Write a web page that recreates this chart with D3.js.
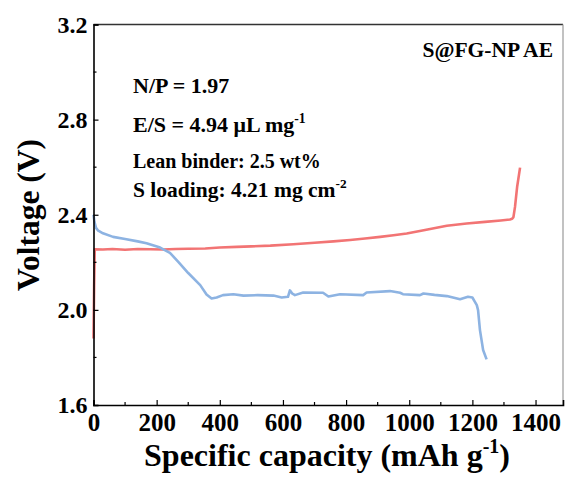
<!DOCTYPE html>
<html>
<head>
<meta charset="utf-8">
<script src="https://cdn.jsdelivr.net/npm/d3@7"></script>
<style>
  html, body { margin: 0; padding: 0; background: #fff; }
  svg { display: block; }
  text { font-family: "Liberation Serif", "Times New Roman", serif; font-weight: bold; fill: #000; }
</style>
</head>
<body>
<svg id="chart" width="567" height="480"></svg>
<script>
// Charge curve (red): capacity in mAh/g, voltage in V
const chargeCap = [0, 2, 4, 30, 60, 100, 140, 180, 220, 260, 300, 354, 400, 454, 500, 560, 633, 700, 760, 813, 860, 908, 950, 992, 1050, 1119, 1182, 1240, 1290, 1319, 1326, 1330, 1335, 1342, 1351];
const chargeV   = [1.88, 2.10, 2.255, 2.254, 2.256, 2.253, 2.256, 2.255, 2.254, 2.256, 2.257, 2.258, 2.262, 2.265, 2.267, 2.270, 2.276, 2.282, 2.288, 2.294, 2.300, 2.307, 2.314, 2.321, 2.336, 2.354, 2.363, 2.370, 2.376, 2.380, 2.383, 2.390, 2.433, 2.52, 2.598];

// Discharge curve (blue)
const dischargeCap = [0, 3, 8, 15, 30, 62, 100, 140, 168, 211, 242, 270, 300, 338, 358, 374, 390, 410, 443, 475, 520, 570, 596, 616, 622, 630, 638, 664, 727, 744, 781, 854, 865, 939, 971, 980, 1034, 1045, 1080, 1119, 1161, 1186, 1200, 1208, 1214, 1218, 1224, 1234, 1245];
const dischargeV   = [2.40, 2.37, 2.345, 2.333, 2.322, 2.307, 2.298, 2.288, 2.280, 2.262, 2.240, 2.200, 2.155, 2.104, 2.065, 2.048, 2.052, 2.062, 2.066, 2.060, 2.062, 2.060, 2.052, 2.055, 2.082, 2.068, 2.062, 2.073, 2.072, 2.056, 2.066, 2.062, 2.073, 2.079, 2.072, 2.066, 2.062, 2.069, 2.063, 2.058, 2.045, 2.055, 2.052, 2.034, 2.020, 1.999, 1.915, 1.831, 1.792];

const xTicks = [0, 200, 400, 600, 800, 1000, 1200, 1400];
const xMinor = [100, 300, 500, 700, 900, 1100, 1300];
const yTicks = [1.6, 2.0, 2.4, 2.8, 3.2];
const yMinor = [1.8, 2.2, 2.6, 3.0];

const annotations = [
  { text: "N/P = 1.97" },
  { text: "E/S = 4.94 \u03BCL mg", sup: "-1" },
  { text: "Lean binder: 2.5 wt%" },
  { text: "S loading: 4.21 mg cm", sup: "-2" }
];
const sampleLabel = "S@FG-NP AE";

const svg = d3.select("#chart");
const plotLeft = 93.5, plotRight = 563, plotTop = 24.5, plotBottom = 405;

const x = d3.scaleLinear().domain([0, 1487]).range([plotLeft, plotRight]);
const y = d3.scaleLinear().domain([1.6, 3.2]).range([plotBottom, plotTop]);

// frame: top and right edges
svg.append("line").attr("x1", plotLeft).attr("x2", plotRight).attr("y1", plotTop).attr("y2", plotTop)
  .attr("stroke", "#333").attr("stroke-width", 1.5);
svg.append("line").attr("x1", plotRight).attr("x2", plotRight).attr("y1", plotTop).attr("y2", plotBottom)
  .attr("stroke", "#999").attr("stroke-width", 1.2);

// curves
const line = d3.line().x(d => x(d[0])).y(d => y(d[1])).curve(d3.curveLinear);
svg.append("path")
  .datum(chargeCap.map((c, i) => [c, chargeV[i]]))
  .attr("d", line).attr("fill", "none")
  .attr("stroke", "#f27474").attr("stroke-width", 2.6).attr("stroke-linejoin", "round");
svg.append("path")
  .datum(dischargeCap.map((c, i) => [c, dischargeV[i]]))
  .attr("d", line).attr("fill", "none")
  .attr("stroke", "#8db3e2").attr("stroke-width", 2.6).attr("stroke-linejoin", "round");

// x axis
const xAxis = svg.append("g").attr("transform", `translate(0,${plotBottom})`)
  .call(d3.axisBottom(x).tickValues(xTicks).tickSize(-5).tickPadding(8).tickFormat(d3.format("d")));
xAxis.append("g").selectAll("line").data(xMinor).join("line")
  .attr("x1", d => x(d)).attr("x2", d => x(d)).attr("y1", 0).attr("y2", -3)
  .attr("stroke", "#000").attr("stroke-width", 1.2);

// y axis
const yAxis = svg.append("g").attr("transform", `translate(${plotLeft},0)`)
  .call(d3.axisLeft(y).tickValues(yTicks).tickSize(-5).tickPadding(6).tickFormat(d3.format(".1f")));
yAxis.append("g").selectAll("line").data(yMinor).join("line")
  .attr("y1", d => y(d)).attr("y2", d => y(d)).attr("x1", 0).attr("x2", 3)
  .attr("stroke", "#000").attr("stroke-width", 1.2);

[xAxis, yAxis].forEach(g => {
  g.select(".domain").attr("stroke", "#000").attr("stroke-width", 1.6);
  g.selectAll(".tick line").attr("stroke", "#000").attr("stroke-width", 1.2);
  g.selectAll(".tick text")
    .attr("font-family", "'Liberation Serif', 'Times New Roman', serif")
    .attr("font-weight", "bold").attr("fill", "#000");
});
xAxis.selectAll(".tick text").attr("font-size", 25).attr("dy", "0.71em");
yAxis.selectAll(".tick text").attr("font-size", 24);

// axis titles
const xt = svg.append("text").attr("x", 327).attr("y", 466).attr("text-anchor", "middle")
  .attr("font-size", 32);
xt.append("tspan").text("Specific capacity (mAh g");
xt.append("tspan").attr("font-size", 20).attr("dy", -13).text("-1");
xt.append("tspan").attr("dy", 13).text(")");

svg.append("text").attr("transform", "translate(39,215) rotate(-90)")
  .attr("text-anchor", "middle").attr("font-size", 31.5).text("Voltage (V)");

// annotations
svg.append("text").attr("x", 553).attr("y", 57).attr("text-anchor", "end")
  .attr("font-size", 21.5).text(sampleLabel);

const annY = [93, 132, 168, 197];
const annSize = [22, 22, 20, 21.5];
annotations.forEach((a, i) => {
  const t = svg.append("text").attr("x", 133).attr("y", annY[i]).attr("font-size", annSize[i]);
  t.append("tspan").text(a.text);
  if (a.sup) t.append("tspan").attr("font-size", annSize[i] * 0.62).attr("dy", -9).text(a.sup);
});
</script>
</body>
</html>
